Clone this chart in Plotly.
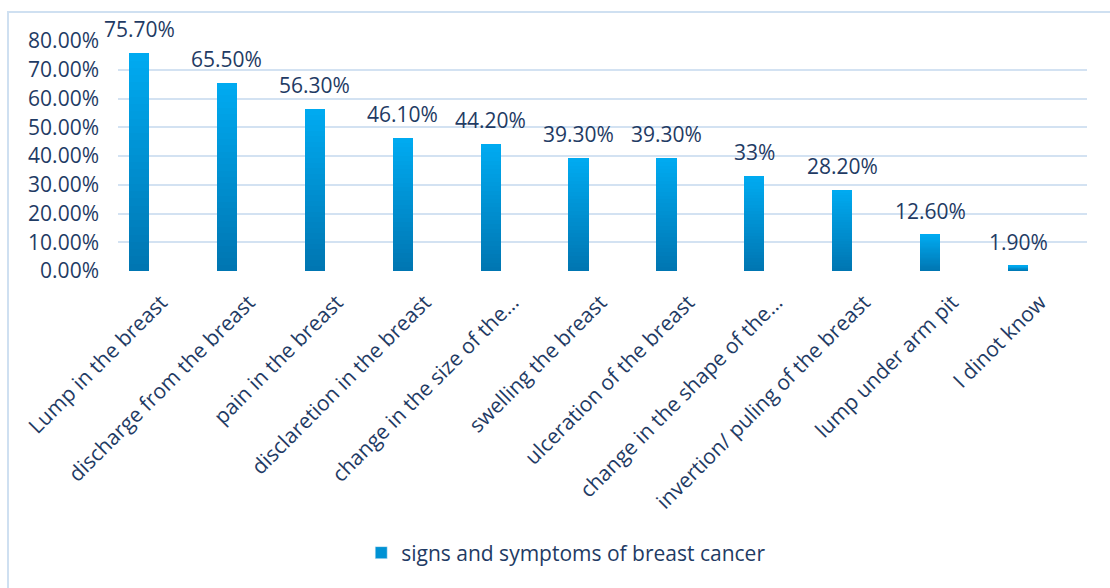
import plotly.graph_objects as go

categories = [
    "Lump in the breast",
    "discharge from the breast",
    "pain in the breast",
    "disclaretion in the breast",
    "change in the size of the…",
    "swelling the breast",
    "ulceration of the breast",
    "change in the shape of the…",
    "invertion/ puling of the breast",
    "lump under arm pit",
    "I dinot know",
]
values = [0.757, 0.655, 0.563, 0.461, 0.442, 0.393, 0.393, 0.33, 0.282, 0.126, 0.019]
value_labels = ["75.70%", "65.50%", "56.30%", "46.10%", "44.20%", "39.30%",
                "39.30%", "33%", "28.20%", "12.60%", "1.90%"]
y_ticks = [0, 0.1, 0.2, 0.3, 0.4, 0.5, 0.6, 0.7, 0.8]
y_ticktext = ["0.00%", "10.00%", "20.00%", "30.00%", "40.00%", "50.00%",
              "60.00%", "70.00%", "80.00%"]
series_name = "signs and symptoms of breast cancer"

TEXT = "#1F3B64"
FONT = "Open Sans"
FS = 21
bottom_rgb = (0, 118, 178)
top_rgb = (0, 170, 240)
N = 30

fig = go.Figure()
for k in range(N):
    t = k / (N - 1)
    col = "rgb({},{},{})".format(*[round(b + (tp - b) * t) for b, tp in zip(bottom_rgb, top_rgb)])
    fig.add_trace(go.Bar(
        x=categories,
        y=[v * (N - k) / N for v in values],
        base=[v * k / N for v in values],
        width=0.23,
        marker=dict(color=col, line=dict(width=0)),
        showlegend=False,
        hoverinfo="skip",
    ))
# legend entry
fig.add_trace(go.Bar(
    x=categories, y=[None] * len(categories), name=series_name,
    marker=dict(color="rgb(0,146,212)"), showlegend=True,
))

for c, v, lab in zip(categories, values, value_labels):
    fig.add_annotation(x=c, y=v, text=lab, showarrow=False, yanchor="bottom",
                       yshift=8, font=dict(family=FONT, size=FS, color=TEXT))

# outer chart border (left and top visible)
fig.add_shape(type="rect", xref="paper", yref="paper",
              x0=-0.1135, x1=1.2, y0=-1.6, y1=1.126,
              line=dict(color="#CFE0F1", width=2), layer="below")

fig.update_layout(
    width=1110, height=588,
    margin=dict(l=118, r=23, t=41, b=317, autoexpand=False),
    paper_bgcolor="white", plot_bgcolor="white",
    barmode="overlay", bargap=0,
    font=dict(family=FONT, size=FS, color=TEXT),
    showlegend=True,
    legend=dict(orientation="h", x=0.251, xanchor="left", y=-1.226, yanchor="middle",
                font=dict(family=FONT, size=FS, color=TEXT)),
    xaxis=dict(type="category", range=[-0.24, 10.785], tickangle=-45,
               showgrid=False, showline=False, ticks="", zeroline=False,
               automargin=False, ticklabelstandoff=14, ticklabelshift=22,
               tickfont=dict(family=FONT, size=FS, color=TEXT)),
    yaxis=dict(range=[0, 0.8], tickvals=y_ticks, ticktext=y_ticktext,
               showgrid=True, gridcolor="#D3E2F2", gridwidth=2,
               zeroline=False, showline=False, ticks="", automargin=False,
               ticklabelstandoff=18,
               tickfont=dict(family=FONT, size=FS, color=TEXT)),
)

fig.write_html("out.html")
